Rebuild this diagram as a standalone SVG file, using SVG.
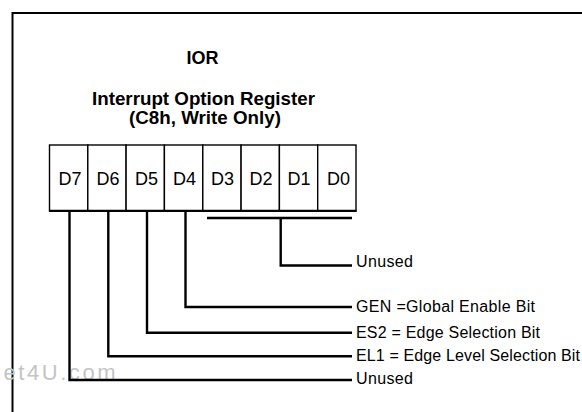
<svg xmlns="http://www.w3.org/2000/svg" width="582" height="412" viewBox="0 0 582 412">
<style>
.frame{fill:none;stroke:#000;stroke-width:2}
.cell{fill:#fff;stroke:#000;stroke-width:1.4}
.conn{fill:none;stroke:#000;stroke-width:2.4}
.title{font-family:"Liberation Sans",Arial,sans-serif;font-weight:bold;font-size:18px;fill:#000;text-anchor:middle}
.bit{font-family:"Liberation Sans",Arial,sans-serif;font-size:18px;fill:#000;text-anchor:middle}
.lbl{font-family:"Liberation Sans",Arial,sans-serif;font-size:16px;fill:#000}
.wm{font-family:"Liberation Sans",Arial,sans-serif;font-size:22px;fill:#c4c4c4}
</style>
<rect width="582" height="412" fill="#fff"/>
<path class="frame" d="M12.5,412 V13 H582"/>
<text class="wm" x="3.5" y="380" textLength="112" lengthAdjust="spacing">et4U.com</text>
<g id="titles">
<text class="title" x="202.5" y="64">IOR</text>
<text class="title" x="203.5" y="105" textLength="223" lengthAdjust="spacingAndGlyphs">Interrupt Option Register</text>
<text class="title" x="205" y="124" textLength="152" lengthAdjust="spacingAndGlyphs">(C8h, Write Only)</text>
</g>
<g id="register">
<rect class="cell" x="49.5" y="145" width="38.3" height="66"/>
<rect class="cell" x="87.8" y="145" width="38.3" height="66"/>
<rect class="cell" x="126.1" y="145" width="38.3" height="66"/>
<rect class="cell" x="164.4" y="145" width="38.4" height="66"/>
<rect class="cell" x="202.8" y="145" width="38.3" height="66"/>
<rect class="cell" x="241.1" y="145" width="38.3" height="66"/>
<rect class="cell" x="279.4" y="145" width="38.3" height="66"/>
<rect class="cell" x="317.7" y="145" width="38.3" height="66"/>
<line x1="49" y1="210.8" x2="356.5" y2="210.8" stroke="#000" stroke-width="2.2"/>
<text class="bit" x="70" y="184.5">D7</text>
<text class="bit" x="108" y="184.5">D6</text>
<text class="bit" x="146.5" y="184.5">D5</text>
<text class="bit" x="184.5" y="184.5">D4</text>
<text class="bit" x="222.5" y="184.5">D3</text>
<text class="bit" x="261" y="184.5">D2</text>
<text class="bit" x="299" y="184.5">D1</text>
<text class="bit" x="338.5" y="184.5">D0</text>
</g>
<g id="connectors">
<path class="conn" d="M207,218 H352"/>
<path class="conn" d="M280.7,218 V265.5 H352"/>
<path class="conn" d="M185.5,211 V307 H352"/>
<path class="conn" d="M147,211 V332.7 H352"/>
<path class="conn" d="M108.3,211 V356.3 H352"/>
<path class="conn" d="M69.5,211 V380 H352"/>
</g>
<g id="label-unused-low">
<text class="lbl" x="356" y="267" textLength="57" lengthAdjust="spacing">Unused</text>
</g>
<g id="label-gen">
<text class="lbl" x="356" y="311.5" textLength="179" lengthAdjust="spacing">GEN =Global Enable Bit</text>
</g>
<g id="label-es2">
<text class="lbl" x="356" y="337.5" textLength="184" lengthAdjust="spacing">ES2 = Edge Selection Bit</text>
</g>
<g id="label-el1">
<text class="lbl" x="356" y="361" textLength="224" lengthAdjust="spacing">EL1 = Edge Level Selection Bit</text>
</g>
<g id="label-unused-high">
<text class="lbl" x="356" y="384" textLength="57" lengthAdjust="spacing">Unused</text>
</g>
</svg>
